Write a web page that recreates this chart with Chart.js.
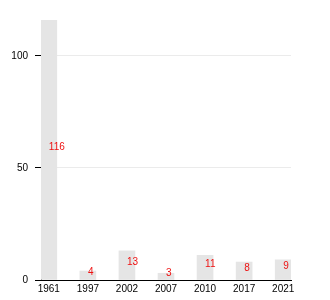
<!DOCTYPE html>
<html>
<head>
<meta charset="utf-8">
<script src="https://cdn.jsdelivr.net/npm/chart.js@4/dist/chart.umd.min.js"></script>
<style>
  html, body { margin: 0; padding: 0; background: #fff; }
  #wrap { width: 330px; height: 300px; }
</style>
</head>
<body>
<div id="wrap"><canvas id="chart"></canvas></div>
<script>
/* ===== DATA ===== */
const years = ['1961', '1997', '2002', '2007', '2010', '2017', '2021'];
const counts = [116, 4, 13, 3, 11, 8, 9];
const yTicks = [0, 50, 100];

const font = { family: 'Liberation Sans, Arial, sans-serif', size: 10 };

/* red value text, left edge at bar centre, at half the bar's height */
const valueLabels = {
  id: 'valueLabels',
  afterDatasetsDraw(chart) {
    const ctx = chart.ctx;
    const meta = chart.getDatasetMeta(0);
    ctx.save();
    ctx.font = '10px ' + font.family;
    ctx.fillStyle = '#ee1111';
    ctx.textAlign = 'left';
    ctx.textBaseline = 'middle';
    meta.data.forEach((bar, i) => {
      const mid = (bar.y + bar.base) / 2;
      ctx.fillText(String(counts[i]), bar.x, mid - 3);
    });
    ctx.restore();
  }
};

new Chart(document.getElementById('chart'), {
  type: 'bar',
  data: {
    datasets: [{
      data: counts.map((v, i) => ({ x: i, y: v })),
      backgroundColor: '#e5e5e5',
      borderWidth: 0,
      barThickness: 16
    }]
  },
  options: {
    responsive: true, maintainAspectRatio: false, animation: false,
    layout: { padding: { top: 20, right: 39, left: 0, bottom: 0 } },
    plugins: { legend: { display: false }, tooltip: { enabled: false } },
    scales: {
      x: {
        type: 'linear', min: -0.2, max: years.length - 0.8, offset: false,
        afterBuildTicks: (s) => { s.ticks = years.map((_, i) => ({ value: i })); },
        afterFit: (s) => { s.height = 20; },
        grid: { display: false, drawTicks: false, offset: false },
        border: { display: true, color: '#000', width: 1 },
        ticks: { font, color: '#000', padding: 3, maxRotation: 0, autoSkip: false,
                 callback: (v) => years[v] }
      },
      y: {
        min: 0, max: 116,
        afterBuildTicks: (s) => { s.ticks = yTicks.map(v => ({ value: v })); },
        afterFit: (s) => { s.width = 41; },
        grid: {
          color: (c) => c.tick && c.tick.value === 0 ? 'rgba(0,0,0,0)' : '#ebebeb',
          tickColor: '#000', tickLength: 6, drawTicks: true
        },
        border: { display: true, color: '#000', width: 1 },
        ticks: { font, color: '#000', padding: 7 }
      }
    }
  },
  plugins: [valueLabels]
});
</script>
</body>
</html>
